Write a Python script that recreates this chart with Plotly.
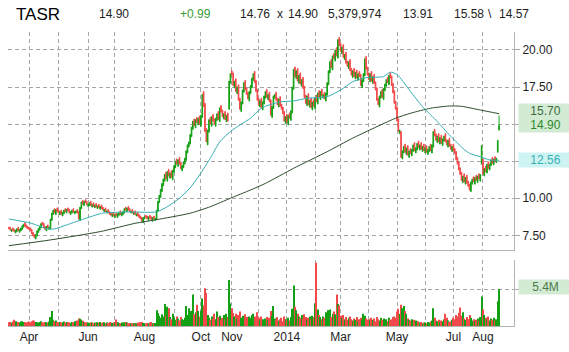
import numpy as np
import pandas as pd
import plotly.graph_objects as go

# ---------------- data ----------------
symbol = "TASR"
hdr_last, hdr_change, hdr_bid, hdr_ask = "14.90", "+0.99", "14.76", "14.90"
hdr_volume, hdr_prev, hdr_high, hdr_low = "5,379,974", "13.91", "15.58", "14.57"
day_high, day_low = 15.58, 14.57

holidays = ["2013-03-29", "2013-05-27", "2013-07-04", "2013-09-02", "2013-11-28",
            "2013-12-25", "2014-01-01", "2014-01-20", "2014-02-17", "2014-04-18",
            "2014-05-26", "2014-07-04"]
dates = pd.bdate_range("2013-03-08", "2014-08-19")
dates = dates[~dates.isin(pd.to_datetime(holidays))]

closes = [
    # Mar 2013
    7.95, 7.85, 7.90, 7.80, 7.75, 7.85, 7.95, 7.80, 7.90, 8.00, 8.15, 8.25, 8.10, 8.00, 7.95,
    # Apr
    7.90, 7.80, 7.60, 7.45, 7.35, 7.55, 7.80, 7.95, 8.10, 8.30, 8.20, 8.00, 7.90, 8.10, 8.00,
    8.05, 8.60, 9.00, 9.20, 9.00, 9.25, 9.10,
    # May
    9.00, 9.10, 8.90, 9.05, 9.20, 9.10, 9.25, 9.15, 9.00, 9.10, 9.20, 9.05, 9.10, 9.15, 9.00,
    8.60, 9.40, 9.75, 9.60, 9.80, 9.70, 9.55,
    # Jun
    9.60, 9.70, 9.50, 9.60, 9.45, 9.55, 9.40, 9.50, 9.35, 9.45, 9.30, 9.20, 9.25, 9.10, 9.15,
    9.00, 8.90, 8.85, 8.95, 8.80,
    # Jul
    8.90, 8.80, 8.95, 9.05, 8.90, 9.00, 9.10, 9.30, 9.20, 9.35, 9.20, 9.10, 9.15, 9.00, 9.05,
    8.90, 8.95, 8.80, 8.70, 8.60, 8.45, 8.70,
    # Aug
    8.75, 8.70, 8.60, 8.75, 8.65, 8.55, 8.70, 8.60, 8.65, 9.20, 9.80, 10.20, 10.60, 11.00,
    11.30, 11.60, 11.30, 11.80, 11.50, 11.70, 11.40, 11.90,
    # Sep
    12.20, 12.50, 12.30, 12.60, 12.30, 12.00, 12.20, 12.45, 12.70, 13.20, 13.60, 13.80, 14.30,
    14.80, 15.20, 14.90, 15.30, 15.10, 15.40, 15.00,
    # Oct
    15.60, 17.00, 16.20, 14.50, 13.80, 14.60, 15.30, 15.00, 15.50, 15.20, 15.00, 15.40, 15.70,
    15.30, 16.10, 15.80, 15.50, 15.70, 15.30, 15.60, 15.20, 17.90, 18.40,
    # Nov
    18.30, 17.60, 17.90, 17.20, 17.50, 16.60, 16.00, 16.50, 17.30, 17.80, 17.30, 17.00, 16.70,
    17.20, 17.60, 18.10, 18.40, 17.80, 17.20, 16.60,
    # Dec
    16.30, 16.60, 16.10, 16.50, 16.90, 17.20, 16.80, 17.00, 16.50, 15.60, 16.20, 16.90, 17.00,
    16.60, 16.30, 16.70, 16.20, 16.00, 15.70, 15.20, 15.50,
    # Jan 2014
    15.10, 15.60, 15.40, 15.90, 17.50, 18.70, 18.20, 18.60, 17.90, 18.30, 17.70, 18.00, 17.40,
    16.80, 16.40, 16.90, 16.30, 16.60, 16.10, 16.50, 16.20,
    # Feb
    16.80, 16.50, 17.10, 16.80, 17.20, 16.90, 17.00, 16.70, 17.10, 17.80, 18.60, 19.20, 18.80,
    19.60, 19.40, 20.00, 19.60, 20.70, 20.30,
    # Mar
    19.90, 20.20, 19.50, 19.70, 19.10, 18.90, 19.20, 18.60, 18.30, 18.60, 18.20, 18.50, 18.10,
    18.40, 18.20, 17.60, 18.00, 18.40, 19.40, 18.70, 18.30,
    # Apr
    18.00, 18.40, 17.90, 18.20, 17.70, 17.30, 16.60, 16.30, 16.90, 17.20, 16.80, 17.40, 17.70,
    18.00, 17.80, 18.30, 18.10, 17.60, 17.10, 16.40, 16.00,
    # May
    15.20, 14.50, 14.60, 12.75, 13.20, 13.50, 13.10, 13.40, 12.90, 13.20, 13.00, 13.30, 13.60,
    13.20, 13.40, 13.70, 13.40, 13.60, 13.30, 13.50, 13.20,
    # Jun
    13.40, 13.10, 13.30, 13.50, 13.20, 13.60, 14.50, 14.20, 13.90, 14.20, 13.80, 14.10, 13.70,
    14.00, 14.20, 13.80, 13.60, 13.90, 13.50, 13.30, 13.50,
    # Jul
    13.20, 13.00, 12.60, 12.30, 11.90, 11.60, 11.20, 11.50, 11.10, 11.40, 11.00, 10.80, 10.55,
    11.10, 11.30, 11.10, 11.40, 11.20, 11.50, 11.30, 11.60, 13.55,
    # Aug
    11.60, 12.00, 11.80, 12.30, 12.00, 12.30, 12.60, 12.35, 12.65, 12.45, 12.70, 13.91, 14.90,
]

opens = [
    # Mar 2013
    8.05, 8.05, 7.75, 8.00, 7.90, 7.65, 7.75, 8.05, 7.70, 7.80, 7.90, 8.05, 8.35, 8.20, 8.10,
    # Apr
    8.05, 8.00, 7.90, 7.70, 7.55, 7.25, 7.45, 7.70, 7.85, 8.00, 8.40, 8.30, 8.10, 7.80, 8.20,
    7.90, 7.95, 8.50, 8.90, 9.30, 8.90, 9.35,
    # May
    9.20, 8.90, 9.20, 8.80, 8.95, 9.30, 9.00, 9.35, 9.25, 8.90, 9.00, 9.30, 8.95, 9.00, 9.25,
    9.10, 8.50, 9.30, 9.85, 9.50, 9.90, 9.80,
    # Jun
    9.45, 9.50, 9.80, 9.40, 9.70, 9.35, 9.65, 9.30, 9.60, 9.25, 9.55, 9.40, 9.10, 9.35, 9.00,
    9.25, 9.10, 9.00, 8.75, 9.05,
    # Jul
    8.70, 9.00, 8.70, 8.85, 9.15, 8.80, 8.90, 9.00, 9.40, 9.10, 9.45, 9.30, 9.00, 9.25, 8.90,
    9.15, 8.80, 9.05, 8.90, 8.80, 8.70, 8.35,
    # Aug
    8.60, 8.85, 8.80, 8.50, 8.85, 8.75, 8.45, 8.80, 8.50, 8.60, 9.10, 9.70, 10.05, 10.45,
    10.85, 11.15, 11.75, 11.15, 11.95, 11.35, 11.85, 11.25,
    # Sep
    11.75, 12.05, 12.65, 12.15, 12.75, 12.45, 11.85, 12.05, 12.30, 12.55, 13.05, 13.45, 13.65,
    14.15, 14.65, 15.35, 14.75, 15.45, 14.95, 15.55,
    # Oct
    14.85, 15.45, 17.20, 16.40, 14.70, 13.60, 14.45, 15.45, 14.85, 15.65, 15.35, 14.85, 15.25,
    15.85, 15.15, 16.25, 15.95, 15.35, 15.85, 15.15, 15.75, 16.00, 17.75,
    # Nov
    18.60, 18.45, 17.45, 18.05, 17.05, 17.65, 16.75, 15.85, 16.35, 17.15, 17.95, 17.45, 17.15,
    16.55, 17.05, 17.45, 17.95, 18.55, 17.95, 17.35,
    # Dec
    16.75, 16.15, 16.75, 15.95, 16.35, 16.75, 17.35, 16.65, 17.15, 16.65, 15.45, 16.05, 16.75,
    17.15, 16.75, 16.15, 16.85, 16.35, 16.15, 15.85, 15.05,
    # Jan 2014
    15.65, 14.95, 15.75, 15.25, 15.75, 17.35, 18.85, 18.05, 18.75, 17.75, 18.45, 17.55, 18.15,
    17.55, 16.95, 16.25, 17.05, 16.15, 16.75, 15.95, 16.65,
    # Feb
    16.05, 16.95, 16.35, 17.25, 16.65, 17.35, 16.75, 17.15, 16.55, 16.95, 17.65, 18.45, 19.35,
    18.65, 19.75, 19.25, 20.15, 19.45, 20.85,
    # Mar
    20.45, 19.75, 20.35, 19.35, 19.85, 19.25, 18.75, 19.35, 18.75, 18.15, 18.75, 18.05, 18.65,
    17.95, 18.55, 18.35, 17.45, 17.85, 18.25, 19.55, 18.85,
    # Apr
    18.45, 17.85, 18.55, 17.75, 18.35, 17.85, 17.45, 16.75, 16.15, 16.75, 17.35, 16.65, 17.25,
    17.55, 18.15, 17.65, 18.45, 18.25, 17.75, 17.25, 16.55,
    # May
    16.15, 15.35, 14.35, 14.50, 12.65, 13.05, 13.65, 12.95, 13.55, 12.75, 13.35, 12.85, 13.15,
    13.75, 13.05, 13.25, 13.85, 13.25, 13.75, 13.15, 13.65,
    # Jun
    13.05, 13.55, 12.95, 13.15, 13.65, 13.05, 13.45, 14.65, 14.35, 13.75, 14.35, 13.65, 14.25,
    13.55, 13.85, 14.35, 13.95, 13.45, 14.05, 13.65, 13.15,
    # Jul
    13.65, 13.35, 13.15, 12.75, 12.45, 12.05, 11.75, 11.05, 11.65, 10.95, 11.55, 11.15, 10.95,
    10.45, 10.95, 11.45, 10.95, 11.55, 11.05, 11.65, 11.15, 12.30,
    # Aug
    12.65, 11.50, 12.15, 11.70, 12.45, 11.90, 12.20, 12.75, 12.25, 12.80, 12.40, 13.10, 14.60,
]

volumes = [  # millions of shares
    # Mar 2013
    0.55, 0.60, 0.50, 0.65, 0.90, 0.70, 0.55, 0.60, 0.50, 0.65, 0.70, 0.60, 0.55, 0.50, 0.60,
    # Apr
    0.65, 0.55, 0.70, 0.80, 0.75, 0.60, 0.55, 0.50, 0.60, 0.70, 0.55, 0.50, 0.60, 0.55, 0.50,
    0.65, 1.30, 2.20, 0.90, 0.70, 0.80, 0.60,
    # May
    0.55, 0.60, 0.50, 0.55, 0.65, 0.50, 0.60, 0.55, 0.50, 0.45, 0.60, 0.55, 0.70, 0.65, 0.80,
    1.10, 1.05, 0.90, 0.75, 0.60, 0.55, 0.50,
    # Jun
    0.50, 0.45, 0.55, 0.50, 0.40, 0.50, 0.45, 0.55, 0.50, 0.60, 0.45, 0.50, 0.55, 0.40, 0.50,
    0.45, 0.60, 0.50, 0.45, 0.55,
    # Jul
    0.50, 0.95, 0.55, 0.45, 0.40, 0.50, 0.45, 0.55, 0.60, 0.50, 0.40, 0.45, 0.35, 0.40, 0.45,
    0.35, 0.40, 0.50, 0.45, 0.55, 0.60, 0.45,
    # Aug
    0.40, 0.35, 0.45, 0.40, 0.50, 0.60, 0.40, 0.35, 0.45, 2.30, 1.90, 1.50, 1.20, 1.70, 1.40,
    3.20, 1.50, 2.80, 2.60, 1.30, 1.00, 1.80,
    # Sep
    1.20, 0.90, 1.40, 1.10, 0.80, 1.30, 1.00, 0.90, 1.20, 2.90, 1.60, 2.60, 1.80, 2.20, 4.60,
    1.70, 2.00, 3.10, 2.20, 1.40,
    # Oct
    2.20, 4.00, 3.00, 5.50, 4.80, 1.60, 1.20, 0.90, 1.40, 1.10, 1.80, 1.00, 2.10, 1.30, 1.50,
    0.90, 1.20, 1.60, 1.00, 1.80, 1.30, 6.70, 3.30,
    # Nov
    2.60, 1.90, 1.40, 1.80, 1.10, 1.60, 2.10, 1.20, 1.50, 1.00, 1.70, 1.30, 0.90, 1.40, 1.20,
    1.60, 1.80, 1.40, 1.10, 2.00,
    # Dec
    1.20, 0.90, 1.40, 1.00, 0.80, 1.10, 1.30, 0.90, 1.20, 2.20, 1.50, 2.90, 1.10, 0.90, 1.30,
    0.80, 1.00, 1.20, 0.70, 1.40, 1.00,
    # Jan 2014
    0.90, 1.20, 0.80, 1.30, 2.50, 5.90, 2.80, 2.30, 1.80, 1.40, 1.20, 1.60, 1.10, 1.70, 1.30,
    0.90, 1.20, 1.40, 1.00, 1.50, 1.30,
    # Feb
    3.30, 9.20, 2.40, 1.60, 1.30, 1.00, 1.40, 1.20, 2.00, 1.50, 2.30, 2.40, 1.30, 1.80, 2.10,
    1.70, 4.60, 3.20, 3.00,
    # Mar
    1.50, 1.20, 1.60, 1.00, 1.30, 0.90, 1.20, 1.40, 1.00, 0.80, 1.10, 0.90, 1.30, 0.70, 1.00,
    1.20, 0.90, 1.80, 1.50, 1.10, 0.90,
    # Apr
    1.00, 0.80, 1.20, 0.90, 1.10, 0.70, 1.30, 1.00, 0.80, 1.20, 0.90, 1.10, 0.80, 1.00, 0.70,
    1.20, 0.90, 1.00, 1.30, 1.40, 1.20,
    # May
    2.10, 2.50, 1.80, 3.10, 2.60, 2.90, 2.20, 1.80, 1.10, 0.90, 0.80, 1.00, 0.70, 0.90, 0.80,
    0.60, 0.70, 0.50, 0.60, 0.40, 0.50,
    # Jun
    0.50, 0.40, 0.60, 0.50, 0.70, 0.80, 2.60, 1.20, 0.80, 0.70, 0.90, 0.60, 0.80, 0.70, 1.00,
    1.80, 1.20, 0.80, 0.60, 0.70, 0.90,
    # Jul
    1.20, 1.00, 1.60, 1.40, 1.90, 2.70, 1.50, 2.00, 1.10, 0.90, 1.30, 1.00, 1.60, 1.20, 0.80,
    1.00, 0.70, 0.90, 1.10, 0.80, 1.30, 4.30,
    # Aug
    2.40, 1.60, 1.20, 1.00, 1.40, 0.80, 1.10, 0.90, 1.20, 0.80, 1.00, 3.60, 5.38,
]

# moving averages (trading-day number, value)
ma50_day = [0, 16, 29, 34, 43, 58, 70, 80, 92, 103, 110, 118, 127, 135, 142, 150, 157, 165,
            172, 180, 187, 191, 202, 212, 222, 237, 247, 256, 264, 271, 279, 284, 289, 299,
            308, 319, 328, 338, 343, 351, 358, 365]
ma50_val = [8.60, 8.33, 7.93, 7.93, 8.20, 8.67, 9.00, 9.05, 9.08, 9.05, 9.08, 9.43, 10.00,
            10.70, 11.57, 12.70, 13.80, 14.50, 14.94, 15.40, 16.00, 16.20, 16.50, 16.56, 16.74,
            16.85, 17.30, 17.86, 18.10, 18.16, 18.20, 18.50, 18.35, 17.20, 16.18, 15.17, 14.27,
            13.37, 13.03, 12.80, 12.58, 12.56]
ma200_day = [0, 31, 68, 94, 109, 135, 150, 165, 180, 191, 212, 237, 256, 288, 299, 314, 328,
             337, 351, 365]
ma200_val = [6.80, 7.19, 7.75, 8.31, 8.54, 8.99, 9.43, 10.00, 10.56, 11.00, 12.02, 13.14,
             14.05, 15.40, 15.73, 16.07, 16.22, 16.20, 15.95, 15.70]

month_labels = ["Apr", "", "Jun", "", "Aug", "", "Oct", "Nov", "", "2014", "", "Mar", "",
                "May", "", "Jul", "Aug"]
price_ticks = [7.5, 10.0, 12.5, 15.0, 17.5, 20.0]
price_tick_text = ["7.50", "10.00", "", "", "17.50", "20.00"]  # 12.50/15.00 hidden by value boxes
vol_label = "5.4M"

# ---------------- build ----------------
N = len(dates)
x = np.arange(N)
o = np.array(opens)
c = np.array(closes)
highs = np.maximum(o, c)
lows = np.minimum(o, c)
highs[-1] = day_high
lows[-1] = day_low
up = c >= o

month_start = [i for i in range(1, N) if dates[i].month != dates[i - 1].month]

UP, DN = "#14a014", "#f24a4a"
GRID = "#a6a6a6"
AX = "#b4b4b4"
FONT = "Arial, Liberation Sans, sans-serif"
xr = [-0.64, 376.1]

fig = go.Figure()
fig.add_trace(go.Candlestick(
    x=x, open=o, high=highs, low=lows, close=c,
    increasing=dict(line=dict(color=UP, width=1), fillcolor=UP),
    decreasing=dict(line=dict(color=DN, width=1), fillcolor=DN),
    whiskerwidth=0, xaxis="x", yaxis="y", hoverinfo="skip", showlegend=False))
fig.add_trace(go.Scatter(x=ma200_day, y=ma200_val, mode="lines",
                         line=dict(color="#2c4e2c", width=1.0, shape="spline", smoothing=0.6),
                         xaxis="x", yaxis="y", hoverinfo="skip", showlegend=False))
fig.add_trace(go.Scatter(x=ma50_day, y=ma50_val, mode="lines",
                         line=dict(color="#36aeb0", width=1.0, shape="spline", smoothing=0.6),
                         xaxis="x", yaxis="y", hoverinfo="skip", showlegend=False))
fig.add_trace(go.Bar(x=x, y=volumes, width=0.8,
                     marker=dict(color=[UP if u else DN for u in up], line=dict(width=0)),
                     xaxis="x2", yaxis="y2", hoverinfo="skip", showlegend=False))

common_x = dict(range=xr, tickvals=month_start, showgrid=True, gridcolor=GRID,
                griddash="4px,3px", gridwidth=1, showline=True, linecolor=AX, linewidth=1,
                zeroline=False, ticks="")
fig.update_layout(
    width=569, height=352, margin=dict(l=8, r=55, t=32, b=26),
    paper_bgcolor="white", plot_bgcolor="white", showlegend=False, hovermode=False,
    font=dict(family=FONT, size=12, color="#1e1e1e"),
    xaxis=dict(**common_x, anchor="y", showticklabels=False, rangeslider=dict(visible=False)),
    xaxis2=dict(**common_x, anchor="y2", ticktext=month_labels,
                tickfont=dict(size=12, color="#1e1e1e", family=FONT)),
    yaxis=dict(domain=[0.2585, 1.0], range=[6.51, 21.21], side="right", anchor="x",
               tickvals=price_ticks, ticktext=price_tick_text,
               showgrid=True, gridcolor=GRID, griddash="4px,3px", showline=True,
               linecolor=AX, ticks="outside", ticklen=5, tickcolor=GRID,
               tickfont=dict(size=12, color="#1e1e1e", family=FONT), zeroline=False),
    yaxis2=dict(domain=[0.0, 0.2245], range=[0, 9.6], side="right", anchor="x2",
                tickvals=[volumes[-1]], showticklabels=False, ticks="outside", ticklen=5,
                tickcolor=GRID, showgrid=True, gridcolor=GRID, griddash="4px,3px",
                showline=True, linecolor=AX, zeroline=False),
)

# value boxes on the right axis
def box(text, yval, yref, fg, bg, yshift=0):
    fig.add_annotation(xref="paper", yref=yref, x=1.0079, y=yval, xanchor="left",
                       yanchor="middle", text=text, showarrow=False, width=51, height=12,
                       bgcolor=bg, borderpad=1, yshift=yshift,
                       font=dict(size=12, color=fg, family=FONT))

box(f"{ma200_val[-1]:.2f}", ma200_val[-1], "y", "#3e6a3e", "#d2ebd2", yshift=3)
box(hdr_last, closes[-1], "y", "#2a8a2a", "#d2ebd2", yshift=1)
box(f"{ma50_val[-1]:.2f}", ma50_val[-1], "y", "#3ab0b4", "#cdf3f3")
box(vol_label, volumes[-1], "y2", "#4a7a4a", "#d2ebd2", yshift=2)

# header line
header = [(symbol, 14, 17, "#000000"), (hdr_last, 97, 12, "#1e1e1e"),
          (hdr_change, 178, 12, "#3a9a3a"), (hdr_bid, 238, 12, "#1e1e1e"),
          ("x", 275, 12, "#1e1e1e"), (hdr_ask, 286, 12, "#1e1e1e"),
          (hdr_volume, 326, 12, "#1e1e1e"), (hdr_prev, 401, 12, "#1e1e1e"),
          (hdr_high, 452, 12, "#1e1e1e"), ("\\", 486, 12, "#1e1e1e"),
          (hdr_low, 497, 12, "#1e1e1e")]
for txt, px, fs, col in header:
    fig.add_annotation(xref="paper", yref="paper", x=(px - 8) / 506, y=1 + (32 - 14.5) / 294,
                       xanchor="left", yanchor="middle", text=txt, showarrow=False,
                       font=dict(size=fs, color=col, family=FONT))

fig.write_html("out.html")
